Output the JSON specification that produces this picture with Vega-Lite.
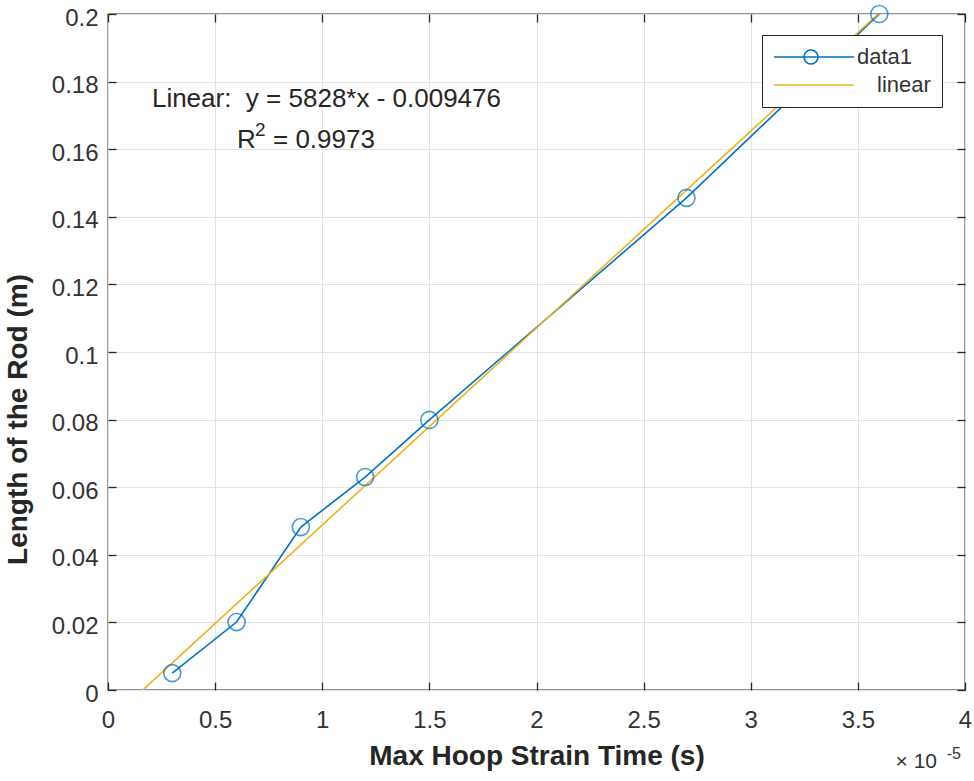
{
  "$schema": "https://vega.github.io/schema/vega-lite/v6.json",
  "autosize": "none",
  "width": 857,
  "height": 676,
  "padding": {"left": 108, "top": 14, "right": 9, "bottom": 91},
  "background": "white",
  "config": {
    "view": {"stroke": "#262626", "strokeWidth": 1.3},
    "axis": {
      "labelFont": "Liberation Sans",
      "labelFontSize": 24,
      "labelColor": "#333333",
      "titleFont": "Liberation Sans",
      "titleFontSize": 28,
      "titleFontWeight": "bold",
      "titleColor": "#262626",
      "domain": false,
      "tickColor": "#262626",
      "tickWidth": 1.3,
      "gridColor": "#e3e3e3",
      "gridWidth": 1,
      "format": "~g"
    }
  },
  "resolve": {"axis": {"x": "independent", "y": "independent"}},
  "datasets": {
    "obs": [
      {"t": 0.3, "L": 0.005, "s": "data1"},
      {"t": 0.6, "L": 0.0201, "s": "data1"},
      {"t": 0.9, "L": 0.0482, "s": "data1"},
      {"t": 1.2, "L": 0.063, "s": "data1"},
      {"t": 1.5, "L": 0.0799, "s": "data1"},
      {"t": 2.7, "L": 0.1456, "s": "data1"},
      {"t": 3.6, "L": 0.2, "s": "data1"}
    ],
    "fit": [
      {"t": 0, "L": -0.009476, "s": "linear"},
      {"t": 4, "L": 0.223644, "s": "linear"}
    ]
  },
  "layer": [
    {
      "data": {"name": "obs"},
      "mark": {"type": "line", "strokeWidth": 1.6, "clip": true},
      "encoding": {
        "x": {"field": "t", "type": "quantitative", "scale": {"domain": [0, 4], "nice": false, "zero": false},
          "axis": {"values": [0, 0.5, 1, 1.5, 2, 2.5, 3, 3.5, 4], "title": "Max Hoop Strain Time (s)", "offset": -8, "tickSize": 8, "labelPadding": 18, "titlePadding": 10, "grid": true, "labelFlush": false}},
        "y": {"field": "L", "type": "quantitative", "scale": {"domain": [0, 0.2], "nice": false, "zero": false},
          "axis": {"values": [0, 0.02, 0.04, 0.06, 0.08, 0.1, 0.12, 0.14, 0.16, 0.18, 0.2], "title": "Length of the Rod (m)", "offset": -8, "tickSize": 8, "labelPadding": 10, "labelOffset": 4, "titlePadding": 19, "titleY": 405, "grid": true, "labelFlush": false}},
        "color": {"field": "s", "type": "nominal",
          "scale": {"domain": ["data1", "linear"], "range": ["#0072BD", "#EDB120"]},
          "legend": {
            "orient": "none", "legendX": 654, "legendY": 21, "title": null,
            "symbolType": "M-1,0L7,0", "symbolSize": 400, "symbolStrokeWidth": 1.6,
            "labelFont": "Liberation Sans", "labelFontSize": 22, "labelColor": "#333333",
            "labelOffset": 64, "rowPadding": 6, "padding": 11,
            "strokeColor": "#262626", "fillColor": "white",
            "encode": {
              "symbols": {"update": {"shape": {"signal": "datum.value === 'data1' ? 'M-1,0L7,0M3.4,0A0.7,0.7,0,1,1,2,0A0.7,0.7,0,1,1,3.4,0' : 'M-1,0L7,0'"}}},
              "labels": {"update": {"x": {"signal": "datum.value === 'data1' ? 84 : 104"}, "align": {"value": "left"}}}
            }
          }}
      }
    },
    {
      "data": {"name": "fit"},
      "mark": {"type": "line", "strokeWidth": 1.6, "clip": true, "color": "#EDB120"},
      "encoding": {
        "x": {"field": "t", "type": "quantitative",
          "axis": {"orient": "top", "values": [0, 0.5, 1, 1.5, 2, 2.5, 3, 3.5, 4], "title": null, "labels": false, "grid": false, "offset": -8, "tickSize": 8}},
        "y": {"field": "L", "type": "quantitative",
          "axis": {"orient": "right", "values": [0, 0.02, 0.04, 0.06, 0.08, 0.1, 0.12, 0.14, 0.16, 0.18, 0.2], "title": null, "labels": false, "grid": false, "offset": -8, "tickSize": 8}}
      }
    },
    {
      "data": {"name": "obs"},
      "mark": {"type": "point", "shape": "circle", "filled": false, "size": 290, "strokeWidth": 1.6, "color": "#0072BD", "clip": false},
      "encoding": {
        "x": {"field": "t", "type": "quantitative", "axis": null},
        "y": {"field": "L", "type": "quantitative", "axis": null}
      }
    },
    {
      "data": {"values": [{"t": 0.205, "L": 0.1749, "label": "Linear:\u00a0 y = 5828*x - 0.009476"}, {"t": 0.602, "L": 0.1627, "label": "R"}, {"t": 0.77, "L": 0.1627, "label": "= 0.9973"}]},
      "mark": {"type": "text", "align": "left", "baseline": "middle", "font": "Liberation Sans", "fontSize": 26, "color": "#262626"},
      "encoding": {
        "x": {"field": "t", "type": "quantitative", "axis": null},
        "y": {"field": "L", "type": "quantitative", "axis": null},
        "text": {"field": "label"}
      }
    },
    {
      "data": {"values": [{"t": 0.686, "L": 0.1657, "label": "2"}]},
      "mark": {"type": "text", "align": "left", "baseline": "middle", "font": "Liberation Sans", "fontSize": 19, "color": "#262626"},
      "encoding": {
        "x": {"field": "t", "type": "quantitative", "axis": null},
        "y": {"field": "L", "type": "quantitative", "axis": null},
        "text": {"field": "label"}
      }
    },
    {
      "data": {"values": [{"t": 4, "L": 0, "label": "× 10"}]},
      "mark": {"type": "text", "align": "right", "baseline": "middle", "font": "Liberation Sans", "fontSize": 21, "color": "#333333", "dx": -28, "dy": 72},
      "encoding": {
        "x": {"field": "t", "type": "quantitative", "axis": null},
        "y": {"field": "L", "type": "quantitative", "axis": null},
        "text": {"field": "label"}
      }
    },
    {
      "data": {"values": [{"t": 4, "L": 0, "label": "-5"}]},
      "mark": {"type": "text", "align": "right", "baseline": "middle", "font": "Liberation Sans", "fontSize": 16, "color": "#333333", "dx": -4, "dy": 64},
      "encoding": {
        "x": {"field": "t", "type": "quantitative", "axis": null},
        "y": {"field": "L", "type": "quantitative", "axis": null},
        "text": {"field": "label"}
      }
    }
  ]
}
